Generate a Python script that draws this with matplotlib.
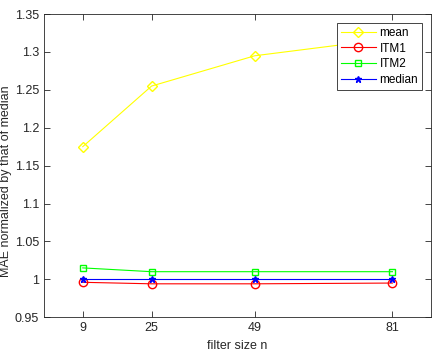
import matplotlib.pyplot as plt

# Data
filter_sizes = [9, 25, 49, 81]
mean_vals = [1.175, 1.255, 1.295, 1.318]
itm1_vals = [0.996, 0.994, 0.994, 0.995]
itm2_vals = [1.015, 1.010, 1.010, 1.010]
median_vals = [1.0, 1.0, 1.0, 1.0]

plt.rcParams['font.family'] = ['Liberation Sans', 'DejaVu Sans']

fig = plt.figure(figsize=(4.36, 3.52), dpi=100)
ax = fig.add_axes([0.101, 0.099, 0.888, 0.861])

lw = 0.8
ax.plot(filter_sizes, mean_vals, color=(1, 1, 0), marker='D', markersize=5,
        mfc='none', lw=lw, label='mean')
ax.plot(filter_sizes, itm1_vals, color=(1, 0, 0), marker='o', markersize=6,
        mfc='none', lw=lw, label='ITM1')
ax.plot(filter_sizes, itm2_vals, color=(0, 1, 0), marker='s', markersize=5,
        mfc='none', lw=lw, label='ITM2')
ax.plot(filter_sizes, median_vals, color=(0, 0, 1), marker='*', markersize=5,
        lw=lw, label='median')

ax.set_xlim(0, 90)
ax.set_ylim(0.95, 1.35)
ax.set_xticks(filter_sizes)
ax.set_yticks([0.95, 1.0, 1.05, 1.1, 1.15, 1.2, 1.25, 1.3, 1.35])
ax.set_yticklabels(['0.95', '1', '1.05', '1.1', '1.15', '1.2', '1.25', '1.3', '1.35'])
ax.tick_params(direction='in', top=True, right=True, labelsize=9,
               colors='#262626', length=4, width=0.6)
for s in ax.spines.values():
    s.set_color('#262626')
    s.set_linewidth(0.6)

ax.set_xlabel('filter size n', fontsize=9, color='#262626')
ax.set_ylabel('MAE normalized by that of median', fontsize=9, color='#262626')
ax.yaxis.set_label_coords(-0.083, 0.45)

leg = ax.legend(loc='upper right', fontsize=8.5, fancybox=False, framealpha=1,
                edgecolor='#262626', handlelength=3.0, borderpad=0.35,
                labelspacing=0.3, handletextpad=0.3, borderaxespad=0.75)
leg.get_frame().set_linewidth(0.6)

fig.savefig('out.png', dpi=100)
